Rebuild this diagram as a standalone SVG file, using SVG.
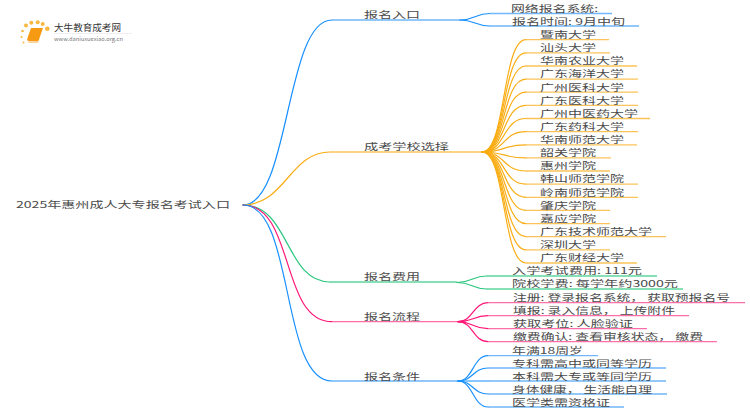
<svg xmlns="http://www.w3.org/2000/svg" width="750" height="410" viewBox="0 0 750 410">
<style>
text{font-family:"Noto Sans CJK SC","Liberation Sans",sans-serif;font-size:9px;fill:#4a4a4a}
.c{fill:none;stroke-width:1.2;stroke-linecap:round}
.f{fill:none;stroke-width:1.3}
.b{stroke:#1890ff}.bf{stroke:#6fb6fa}
.o{stroke:#faad14}.of{stroke:#fbc35a}
.g{stroke:#2bc77f}.gf{stroke:#5cd69c}
.p{stroke:#ff1677}.pf{stroke:#ff6ea8}
.d{fill:#f9b840}
</style>
<g id="connectors">
<path class="c b" d="M243 205C290 205 285 20 332 20"/>
<path class="f bf" d="M332 20H460"/>
<path class="c b" d="M460 20C475 20 475 13.500 490 13.500"/><path class="f bf" d="M490 13.500H612"/>
<path class="c b" d="M460 20C475 20 475 26 490 26"/><path class="f bf" d="M490 26H639"/>
<path class="c o" d="M243 205C285 205 290 152 330 152"/>
<path class="f of" d="M330 152H482"/>
<path class="c o" d="M482 152C506 152 502 39.700 526 39.700"/><path class="f of" d="M526 39.700H609"/>
<path class="c o" d="M482 152C506 152 502 52.800 526 52.800"/><path class="f of" d="M526 52.800H610"/>
<path class="c o" d="M482 152C506 152 502 66 526 66"/><path class="f of" d="M526 66H637"/>
<path class="c o" d="M482 152C506 152 502 79.100 526 79.100"/><path class="f of" d="M526 79.100H638"/>
<path class="c o" d="M482 152C506 152 502 92.200 526 92.200"/><path class="f of" d="M526 92.200H638"/>
<path class="c o" d="M482 152C506 152 502 105.400 526 105.400"/><path class="f of" d="M526 105.400H638"/>
<path class="c o" d="M482 152C506 152 502 118.500 526 118.500"/><path class="f of" d="M526 118.500H650"/>
<path class="c o" d="M482 152C506 152 502 131.600 526 131.600"/><path class="f of" d="M526 131.600H638"/>
<path class="c o" d="M482 152C506 152 502 144.800 526 144.800"/><path class="f of" d="M526 144.800H637"/>
<path class="c o" d="M482 152C506 152 502 157.900 526 157.900"/><path class="f of" d="M526 157.900H611"/>
<path class="c o" d="M482 152C506 152 502 171 526 171"/><path class="f of" d="M526 171H610"/>
<path class="c o" d="M482 152C506 152 502 184.200 526 184.200"/><path class="f of" d="M526 184.200H638"/>
<path class="c o" d="M482 152C506 152 502 197.300 526 197.300"/><path class="f of" d="M526 197.300H638"/>
<path class="c o" d="M482 152C506 152 502 210.400 526 210.400"/><path class="f of" d="M526 210.400H610"/>
<path class="c o" d="M482 152C506 152 502 223.600 526 223.600"/><path class="f of" d="M526 223.600H610"/>
<path class="c o" d="M482 152C506 152 502 236.700 526 236.700"/><path class="f of" d="M526 236.700H666"/>
<path class="c o" d="M482 152C506 152 502 249.800 526 249.800"/><path class="f of" d="M526 249.800H610"/>
<path class="c o" d="M482 152C506 152 502 263 526 263"/><path class="f of" d="M526 263H637"/>
<path class="c g" d="M243 205C290 205 285 282 330 282"/><path class="f gf" d="M330 282H457"/>
<path class="c g" d="M457 282.500C472 282.500 472 276 487 276"/><path class="f gf" d="M487 276H657"/>
<path class="c g" d="M457 282.500C472 282.500 472 289 487 289"/><path class="f gf" d="M487 289H683"/>
<path class="c p" d="M243 205C295 205 280 321.700 332 321.700"/><path class="f pf" d="M332 321.700H458"/>
<path class="c p" d="M458 321.700C473 321.700 473 302.700 488 302.700"/><path class="f pf" d="M488 302.700H745"/>
<path class="c p" d="M458 321.700C473 321.700 473 315.700 488 315.700"/><path class="f pf" d="M488 315.700H689"/>
<path class="c p" d="M458 321.700C473 321.700 473 328.700 488 328.700"/><path class="f pf" d="M488 328.700H647"/>
<path class="c p" d="M458 321.700C473 321.700 473 341.700 488 341.700"/><path class="f pf" d="M488 341.700H717"/>
<path class="c b" d="M243 205C295 205 280 381 332 381"/><path class="f bf" d="M332 381H458"/>
<path class="c b" d="M458 381C473 381 473 355.700 488 355.700"/><path class="f bf" d="M488 355.700H598"/>
<path class="c b" d="M458 381C473 381 473 368 488 368"/><path class="f bf" d="M488 368H666"/>
<path class="c b" d="M458 381C473 381 473 381 488 381"/><path class="f bf" d="M488 381H666"/>
<path class="c b" d="M458 381C473 381 473 394 488 394"/><path class="f bf" d="M488 394H667"/>
<path class="c b" d="M458 381C473 381 473 407 488 407"/><path class="f bf" d="M488 407H624"/>
</g>
<g id="logo">
<circle class="d" cx="26" cy="25.500" r="2"/><circle class="d" cx="31.300" cy="22.700" r="2"/><circle class="d" cx="37.700" cy="22.300" r="2"/><circle class="d" cx="42.700" cy="24" r="2"/><circle class="d" cx="47.300" cy="28.700" r="2.300"/>
<circle class="d" cx="22.500" cy="31" r="1.300"/><circle class="d" cx="21.500" cy="37" r="1"/><circle class="d" cx="23.500" cy="42.500" r="1"/>
<path d="M31 28H43L38.500 41H29Q26.500 41 27.500 38Z" fill="#f59a12"/><path d="M27.500 41.500Q28 42.800 30 42.800H38L38.500 41.300" fill="#f8c27a"/>
<text x="54" y="30.500" style="fill:#333" textLength="67" lengthAdjust="spacingAndGlyphs">大牛教育成考网</text>
<text x="54" y="41" style="font-size:5.500px;fill:#777" textLength="69" lengthAdjust="spacingAndGlyphs">www.daniuxuexiao.org.cn</text>
<path d="M54 33.500H132" stroke="#e4e4e4" stroke-width=".6"/>
</g>
<g id="root"><text x="16" y="208" textLength="214" lengthAdjust="spacingAndGlyphs">2025年惠州成人大专报名考试入口</text></g>
<g id="n1"><text x="364" y="18.300" textLength="56" lengthAdjust="spacingAndGlyphs">报名入口</text></g>
<g id="n1-1"><text x="511" y="11.700" textLength="87" lengthAdjust="spacingAndGlyphs">网络报名系统:</text></g>
<g id="n1-2"><text x="512" y="24.700" textLength="113" lengthAdjust="spacingAndGlyphs">报名时间: 9月中旬</text></g>
<g id="n2"><text x="364" y="150" textLength="85" lengthAdjust="spacingAndGlyphs">成考学校选择</text></g>
<g id="s1"><text x="540" y="38" textLength="56" lengthAdjust="spacingAndGlyphs">暨南大学</text></g>
<g id="s2"><text x="540" y="51" textLength="56" lengthAdjust="spacingAndGlyphs">汕头大学</text></g>
<g id="s3"><text x="540" y="64.300" textLength="84" lengthAdjust="spacingAndGlyphs">华南农业大学</text></g>
<g id="s4"><text x="540" y="77.400" textLength="84" lengthAdjust="spacingAndGlyphs">广东海洋大学</text></g>
<g id="s5"><text x="540" y="90.500" textLength="84" lengthAdjust="spacingAndGlyphs">广州医科大学</text></g>
<g id="s6"><text x="540" y="103.600" textLength="84" lengthAdjust="spacingAndGlyphs">广东医科大学</text></g>
<g id="s7"><text x="540" y="116.800" textLength="98" lengthAdjust="spacingAndGlyphs">广州中医药大学</text></g>
<g id="s8"><text x="540" y="129.900" textLength="84" lengthAdjust="spacingAndGlyphs">广东药科大学</text></g>
<g id="s9"><text x="540" y="143" textLength="84" lengthAdjust="spacingAndGlyphs">华南师范大学</text></g>
<g id="s10"><text x="540" y="156.200" textLength="56" lengthAdjust="spacingAndGlyphs">韶关学院</text></g>
<g id="s11"><text x="540" y="169.300" textLength="56" lengthAdjust="spacingAndGlyphs">惠州学院</text></g>
<g id="s12"><text x="540" y="182.400" textLength="84" lengthAdjust="spacingAndGlyphs">韩山师范学院</text></g>
<g id="s13"><text x="540" y="195.600" textLength="84" lengthAdjust="spacingAndGlyphs">岭南师范学院</text></g>
<g id="s14"><text x="540" y="208.700" textLength="56" lengthAdjust="spacingAndGlyphs">肇庆学院</text></g>
<g id="s15"><text x="540" y="221.900" textLength="56" lengthAdjust="spacingAndGlyphs">嘉应学院</text></g>
<g id="s16"><text x="540" y="235" textLength="112" lengthAdjust="spacingAndGlyphs">广东技术师范大学</text></g>
<g id="s17"><text x="540" y="248.100" textLength="56" lengthAdjust="spacingAndGlyphs">深圳大学</text></g>
<g id="s18"><text x="540" y="261.300" textLength="84" lengthAdjust="spacingAndGlyphs">广东财经大学</text></g>
<g id="n3"><text x="364" y="280.300" textLength="56" lengthAdjust="spacingAndGlyphs">报名费用</text></g>
<g id="n3-1"><text x="512" y="274.300" textLength="130" lengthAdjust="spacingAndGlyphs">入学考试费用: 111元</text></g>
<g id="n3-2"><text x="512" y="287.400" textLength="166" lengthAdjust="spacingAndGlyphs">院校学费: 每学年约3000元</text></g>
<g id="n4"><text x="364" y="320" textLength="56" lengthAdjust="spacingAndGlyphs">报名流程</text></g>
<g id="n4-1"><text x="513" y="301" textLength="217" lengthAdjust="spacingAndGlyphs">注册: 登录报名系统， 获取预报名号</text></g>
<g id="n4-2"><text x="513" y="314" textLength="162" lengthAdjust="spacingAndGlyphs">填报: 录入信息， 上传附件</text></g>
<g id="n4-3"><text x="513" y="327.100" textLength="120" lengthAdjust="spacingAndGlyphs">获取考位: 人脸验证</text></g>
<g id="n4-4"><text x="513" y="340.200" textLength="190" lengthAdjust="spacingAndGlyphs">缴费确认: 查看审核状态， 缴费</text></g>
<g id="n5"><text x="364" y="379.500" textLength="56" lengthAdjust="spacingAndGlyphs">报名条件</text></g>
<g id="n5-1"><text x="512" y="353.500" textLength="71" lengthAdjust="spacingAndGlyphs">年满18周岁</text></g>
<g id="n5-2"><text x="512" y="366.600" textLength="140" lengthAdjust="spacingAndGlyphs">专科需高中或同等学历</text></g>
<g id="n5-3"><text x="512" y="379.700" textLength="140" lengthAdjust="spacingAndGlyphs">本科需大专或等同学历</text></g>
<g id="n5-4"><text x="512" y="392.800" textLength="140" lengthAdjust="spacingAndGlyphs">身体健康， 生活能自理</text></g>
<g id="n5-5"><text x="512" y="405.900" textLength="98" lengthAdjust="spacingAndGlyphs">医学类需资格证</text></g>
</svg>
